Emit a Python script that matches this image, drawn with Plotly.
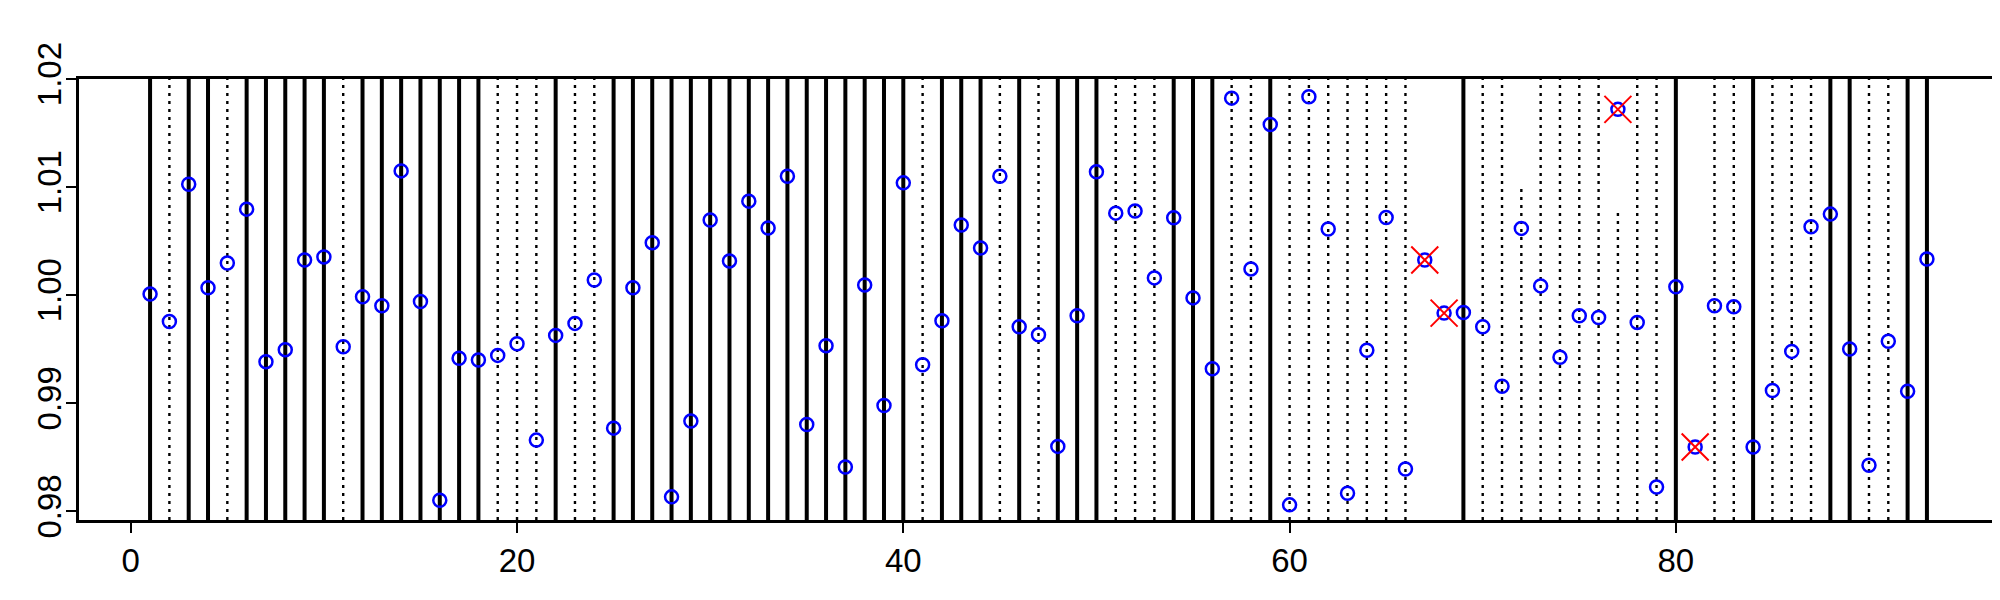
import plotly.graph_objects as go

# ---- data ----
idx = list(range(1, 94))
values = [
    1.0001, 0.99757, 1.01027, 1.00068, 1.00298, 1.00796, 0.99385, 0.99496, 1.00326, 1.00354,
    0.99523, 0.99985, 0.99902, 1.0115, 0.99942, 0.98103, 0.99416, 0.99400, 0.99443, 0.99551,
    0.98659, 0.99628, 0.99739, 1.00141, 0.98770, 1.00068, 1.00486, 0.98134, 0.98835, 1.00695,
    1.00317, 1.0087, 1.00621, 1.01101, 0.98804, 0.99533, 0.98410, 1.00095, 0.98979, 1.01039,
    0.99357, 0.99763, 1.00649, 1.00437, 1.01101, 0.99708, 0.99634, 0.98601, 0.99809, 1.01141,
    1.00759, 1.00778, 1.0016, 1.00716, 0.99975, 0.9932, 1.01823, 1.00243, 1.0158, 0.9806,
    1.01836, 1.00612, 0.98168, 0.9949, 1.00719, 0.98392, 1.00326, 0.99834, 0.9984, 0.99708,
    0.99158, 1.00618, 1.00086, 0.99425, 0.99809, 0.99794, 1.01719, 0.99748, 0.98226, 1.00077,
    0.98595, 0.99902, 0.99892, 0.98595, 0.99118, 0.9948, 1.00633, 1.0075, 0.99502, 0.98426,
    0.99573, 0.99111, 1.00335,
]
# vertical line style per index: s = solid, d = dotted, n = none
line_style = list(
    "sdssdsssss"   # 1-10
    "dsssssssdd"   # 11-20
    "dsddssssss"   # 21-30
    "ssssssssss"   # 31-40
    "dsssdsdsss"   # 41-50
    "dddsssddsd"   # 51-60
    "ddddddnnsd"   # 61-70
    "ddddddddds"   # 71-80
    "nddsd"        # 81-85
    "ddssddss"     # 86-93
)
# dotted lines that stop below the top edge (index -> top value)
line_top = {72: 1.00984, 77: 1.00766}
flagged = [67, 68, 77, 81]

x_ticks = [0, 20, 40, 60, 80]
y_ticks = [0.98, 0.99, 1.00, 1.01, 1.02]
y_tick_text = ["0.98", "0.99", "1.00", "1.01", "1.02"]

X_RANGE = [-2.68, 96.68]
Y_RANGE = [0.9792, 1.02]

# ---- figure ----
fig = go.Figure()

shapes = []
for i, st in zip(idx, line_style):
    if st == "n":
        continue
    top = line_top.get(i, Y_RANGE[1])
    if st == "s":
        line = dict(color="black", width=4)
    else:
        line = dict(color="black", width=2.4, dash="3px,5px")
    shapes.append(dict(type="line", xref="x", yref="y", x0=i, x1=i,
                       y0=Y_RANGE[0], y1=top, line=line, layer="below"))

fig.add_trace(go.Scatter(
    x=idx, y=values, mode="markers",
    marker=dict(symbol="circle-open", size=13, color="#0000FF",
                line=dict(width=2.5, color="#0000FF")),
    showlegend=False, hoverinfo="x+y", cliponaxis=False,
))
fig.add_trace(go.Scatter(
    x=flagged, y=[values[i - 1] for i in flagged], mode="markers",
    marker=dict(symbol="x-thin-open", size=27, color="#FF0000",
                line=dict(width=2, color="#FF0000")),
    showlegend=False, hoverinfo="x+y", cliponaxis=False,
))

axis_font = dict(family="Liberation Sans, Arial, sans-serif", size=33, color="black")
# the page body adds an 8px offset; the figure is sized to fill the rest exactly
fig.update_layout(
    width=1992, height=592,
    margin=dict(l=71, r=2, t=71, b=80, autoexpand=False),
    plot_bgcolor="white", paper_bgcolor="white",
    shapes=shapes,
    xaxis=dict(range=X_RANGE, tickvals=x_ticks, ticks="outside", ticklen=10,
               tickwidth=2, tickcolor="black", showgrid=False, zeroline=False,
               showline=True, mirror=True, linecolor="black", linewidth=2.5,
               tickfont=axis_font, automargin=False),
    yaxis=dict(range=Y_RANGE, tickvals=y_ticks, ticktext=y_tick_text,
               ticks="outside", ticklen=10, tickwidth=2, tickcolor="black",
               showgrid=False, zeroline=False, showline=True, mirror=True,
               linecolor="black", linewidth=2.5, tickangle=-90, tickfont=axis_font,
               ticklabelstandoff=-8, automargin=False),
)

fig.write_html("out.html")
